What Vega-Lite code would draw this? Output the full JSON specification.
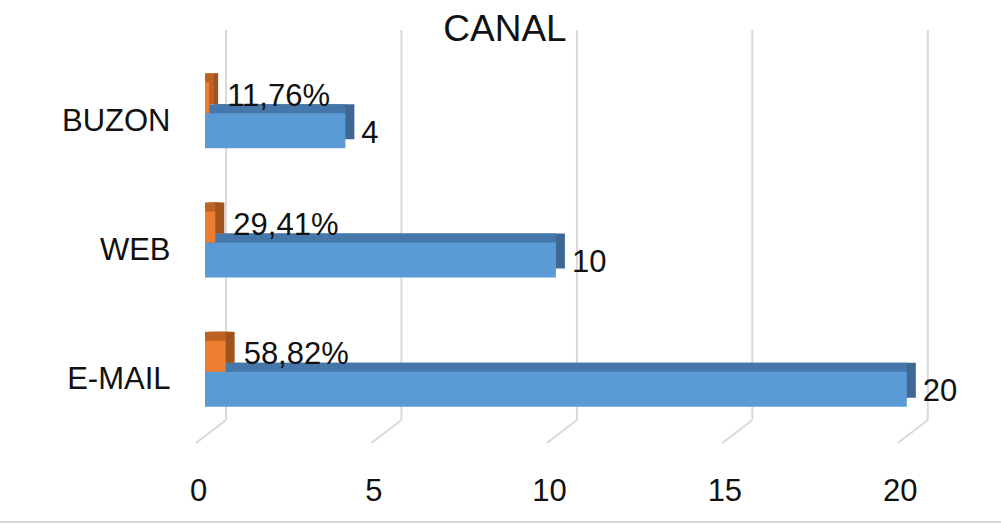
{
  "$schema": "https://vega.github.io/schema/vega-lite/v6.json",
  "width": 772,
  "height": 390,
  "autosize": "none",
  "padding": {"left": 205, "top": 30, "right": 24, "bottom": 104},
  "background": "white",
  "config": {"view": {"stroke": null}, "font": "Liberation Sans"},
  "title": {"text": "CANAL", "fontSize": 37, "font": "Liberation Sans", "fontWeight": "normal", "color": "#111111", "anchor": "middle", "dx": -86, "offset": -20},
  "datasets": {
    "barras": [
      {"canal": "BUZON", "serie": "Cantidad", "valor": 4, "etiqueta": "4"},
      {"canal": "WEB", "serie": "Cantidad", "valor": 10, "etiqueta": "10"},
      {"canal": "E-MAIL", "serie": "Cantidad", "valor": 20, "etiqueta": "20"},
      {"canal": "BUZON", "serie": "Porcentaje", "valor": 0.1176, "etiqueta": "11,76%"},
      {"canal": "WEB", "serie": "Porcentaje", "valor": 0.2941, "etiqueta": "29,41%"},
      {"canal": "E-MAIL", "serie": "Porcentaje", "valor": 0.5882, "etiqueta": "58,82%"}
    ],
    "marcas": [{"v": 0}, {"v": 5}, {"v": 10}, {"v": 15}, {"v": 20}],
    "borde": [{"inicio": 0, "fin": 22}]
  },
  "layer": [
    {
      "data": {"name": "marcas"},
      "mark": {"type": "rule", "xOffset": 21, "color": "#d9d9d9", "strokeWidth": 2},
      "encoding": {
        "x": {"field": "v", "type": "quantitative", "scale": {"domain": [0, 22], "nice": false}, "axis": {"values": [0, 5, 10, 15, 20], "orient": "bottom", "title": null, "domain": false, "ticks": false, "grid": false, "labelFlush": false, "labelFontSize": 31, "labelFont": "Liberation Sans", "labelColor": "#111111", "labelOffset": -7, "labelPadding": 56}}
      }
    },
    {
      "data": {"name": "marcas"},
      "mark": {"type": "rule", "xOffset": 21, "x2Offset": -9, "y2Offset": 23, "color": "#d9d9d9", "strokeWidth": 2},
      "encoding": {
        "x": {"field": "v", "type": "quantitative"},
        "x2": {"field": "v"},
        "y": {"value": "height"},
        "y2": {"value": "height"}
      }
    },
    {
      "data": {"name": "borde"},
      "mark": {"type": "rule", "xOffset": -205, "x2Offset": 24, "yOffset": 102, "color": "#d9d9d9", "strokeWidth": 2},
      "encoding": {
        "x": {"field": "inicio", "type": "quantitative"},
        "x2": {"field": "fin"},
        "y": {"value": "height"}
      }
    },
    {
      "data": {"name": "barras"},
      "transform": [{"filter": "datum.serie === 'Cantidad'"}],
      "mark": {"type": "bar", "height": 35, "xOffset": 9, "yOffset": 7, "color": "#3d6894"},
      "encoding": {
        "x": {"field": "valor", "type": "quantitative"},
        "y": {"field": "canal", "type": "nominal", "sort": ["BUZON", "WEB", "E-MAIL"], "scale": {"paddingInner": 0.5, "paddingOuter": 0.258, "align": 0.785}, "axis": {"title": null, "domain": false, "ticks": false, "labelFontSize": 31, "labelFont": "Liberation Sans", "labelColor": "#111111", "labelPadding": 35, "labelOffset": 7}}
      }
    },
    {
      "data": {"name": "barras"},
      "transform": [{"filter": "datum.serie === 'Cantidad'"}],
      "mark": {"type": "bar", "height": 35, "yOffset": 7, "color": "#4677ab"},
      "encoding": {
        "x": {"field": "valor", "type": "quantitative"},
        "y": {"field": "canal", "type": "nominal", "sort": ["BUZON", "WEB", "E-MAIL"]}
      }
    },
    {
      "data": {"name": "barras"},
      "transform": [{"filter": "datum.serie === 'Cantidad'"}],
      "mark": {"type": "bar", "height": 35, "yOffset": 16, "color": "#5b9bd5"},
      "encoding": {
        "x": {"field": "valor", "type": "quantitative"},
        "y": {"field": "canal", "type": "nominal", "sort": ["BUZON", "WEB", "E-MAIL"]}
      }
    },
    {
      "data": {"name": "barras"},
      "transform": [{"filter": "datum.serie === 'Porcentaje'"}],
      "mark": {"type": "bar", "height": 31, "xOffset": 3, "yOffset": -26, "color": "#bd6222"},
      "encoding": {
        "x": {"field": "valor", "type": "quantitative"},
        "y": {"field": "canal", "type": "nominal", "sort": ["BUZON", "WEB", "E-MAIL"]}
      }
    },
    {
      "data": {"name": "barras"},
      "transform": [{"filter": "datum.serie === 'Porcentaje'"}],
      "mark": {"type": "bar", "height": 31, "xOffset": 6, "yOffset": -26, "color": "#bd6222"},
      "encoding": {
        "x": {"field": "valor", "type": "quantitative"},
        "y": {"field": "canal", "type": "nominal", "sort": ["BUZON", "WEB", "E-MAIL"]}
      }
    },
    {
      "data": {"name": "barras"},
      "transform": [{"filter": "datum.serie === 'Porcentaje'"}],
      "mark": {"type": "bar", "height": 31, "xOffset": 9, "yOffset": -26, "color": "#a0531c"},
      "encoding": {
        "x": {"field": "valor", "type": "quantitative"},
        "y": {"field": "canal", "type": "nominal", "sort": ["BUZON", "WEB", "E-MAIL"]}
      }
    },
    {
      "data": {"name": "barras"},
      "transform": [{"filter": "datum.serie === 'Porcentaje'"}],
      "mark": {"type": "bar", "height": 31, "yOffset": -26, "color": "#bd6222"},
      "encoding": {
        "x": {"field": "valor", "type": "quantitative"},
        "y": {"field": "canal", "type": "nominal", "sort": ["BUZON", "WEB", "E-MAIL"]}
      }
    },
    {
      "data": {"name": "barras"},
      "transform": [{"filter": "datum.serie === 'Porcentaje'"}],
      "mark": {"type": "bar", "height": 31, "yOffset": -17, "color": "#ed7d31"},
      "encoding": {
        "x": {"field": "valor", "type": "quantitative"},
        "y": {"field": "canal", "type": "nominal", "sort": ["BUZON", "WEB", "E-MAIL"]}
      }
    },
    {
      "data": {"name": "barras"},
      "transform": [{"filter": "datum.serie === 'Cantidad'"}],
      "mark": {"type": "text", "align": "left", "baseline": "middle", "dx": 16, "dy": 19, "fontSize": 31, "font": "Liberation Sans", "color": "#111111"},
      "encoding": {
        "x": {"field": "valor", "type": "quantitative"},
        "y": {"field": "canal", "type": "nominal", "sort": ["BUZON", "WEB", "E-MAIL"]},
        "text": {"field": "etiqueta"}
      }
    },
    {
      "data": {"name": "barras"},
      "transform": [{"filter": "datum.serie === 'Porcentaje'"}],
      "mark": {"type": "text", "align": "left", "baseline": "middle", "dx": 18, "dy": -18, "fontSize": 31, "font": "Liberation Sans", "color": "#111111"},
      "encoding": {
        "x": {"field": "valor", "type": "quantitative"},
        "y": {"field": "canal", "type": "nominal", "sort": ["BUZON", "WEB", "E-MAIL"]},
        "text": {"field": "etiqueta"}
      }
    }
  ]
}
